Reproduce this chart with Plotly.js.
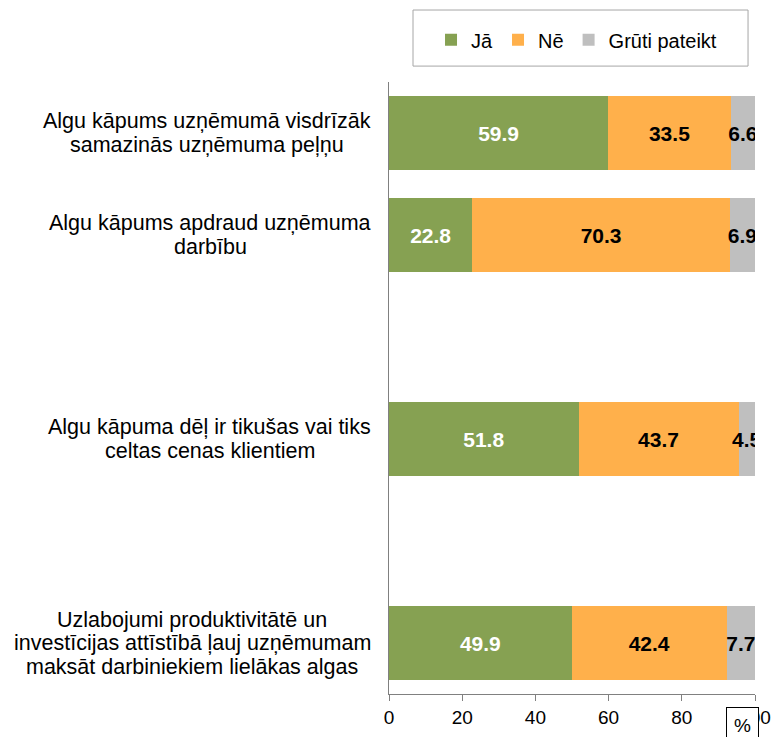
<!DOCTYPE html>
<html>
<head>
<meta charset="utf-8">
<script src="https://cdn.plot.ly/plotly-3.0.1.min.js"></script>
<style>html,body{margin:0;padding:0;background:#fff;}#chart{width:771px;height:737px;}</style>
</head>
<body>
<div id="chart"></div>
<script>
// ---- data ----
var categories = [
  "Algu kāpums uzņēmumā visdrīzāk<br>samazinās uzņēmuma peļņu",
  "Algu kāpums apdraud uzņēmuma<br>darbību",
  " ",
  "Algu kāpuma dēļ ir tikušas vai tiks<br>celtas cenas klientiem",
  "  ",
  "Uzlabojumi produktivitātē un<br>investīcijas attīstībā ļauj uzņēmumam<br>maksāt darbiniekiem lielākas algas"
];
var seriesNames = ["Jā", "Nē", "Grūti pateikt"];
var ja    = [59.9, 22.8, null, 51.8, null, 49.9];
var ne    = [33.5, 70.3, null, 43.7, null, 42.4];
var gruti = [6.6,  6.9,  null, 4.5,  null, 7.7];
var xTicks = [0, 20, 40, 60, 80, 100];
var unitLabel = "%";

// ---- styles ----
var colors = ["#86A152", "#FFB04B", "#BFBFBF"];
var textColors = ["#FFFFFF", "#000000", "#000000"];
var FONT = "Liberation Sans, Arial, sans-serif";
var LABEL_SIZE = 21.5, LINE_H = 23.5;
var LABEL_RIGHT_PX = 371;       // right edge of the label column (page px)
var PLOT_L = 389, PLOT_W = 366; // plot area geometry (matches margins)

var values = [ja, ne, gruti];
var traces = values.map(function (v, i) {
  return {
    type: "bar",
    orientation: "h",
    name: seriesNames[i],
    x: v,
    y: categories,
    marker: {color: colors[i], line: {width: 0}},
    texttemplate: "%{x:.1f}",
    textposition: "inside",
    insidetextanchor: "middle",
    constraintext: "none",
    textangle: 0,
    textfont: {family: FONT, size: 21, color: textColors[i], weight: "bold"},
    hoverinfo: "x+name"
  };
});

// measure text width with a canvas to centre each label block
var cv = document.createElement("canvas").getContext("2d");
cv.font = LABEL_SIZE + "px 'Liberation Sans', Arial, sans-serif";

var annotations = [];
categories.forEach(function (c) {
  if (c.trim() === "") return;
  var lines = c.split("<br>");
  var widest = Math.max.apply(null, lines.map(function (ln) { return cv.measureText(ln).width; }));
  var centerPx = LABEL_RIGHT_PX - widest / 2;
  lines.forEach(function (ln, k) {
    annotations.push({
      xref: "paper", yref: "y", x: (centerPx - PLOT_L) / PLOT_W, y: c,
      xanchor: "center", yanchor: "middle", align: "center",
      text: ln, showarrow: false,
      yshift: ((lines.length - 1) / 2 - k) * LINE_H,
      font: {family: FONT, size: LABEL_SIZE, color: "#000"}
    });
  });
});

annotations.push({
  xref: "paper", yref: "paper", x: 0.967, y: -0.022,
  xanchor: "center", yanchor: "top",
  text: unitLabel, showarrow: false,
  font: {family: FONT, size: 19, color: "#000"},
  bgcolor: "#FFFFFF", bordercolor: "#000000", borderwidth: 1, borderpad: 7
});

var layout = {
  width: 771, height: 737,
  margin: {l: 389, r: 16, t: 82, b: 43},
  paper_bgcolor: "#fff", plot_bgcolor: "#fff",
  barmode: "stack",
  bargap: 0.28,
  showlegend: true,
  legend: {
    orientation: "h", x: 0.1148, y: 1.101, xanchor: "left", yanchor: "top",
    font: {family: FONT, size: 20, color: "#000"},
    itemgap: 11,
    traceorder: "normal", bgcolor: "rgba(0,0,0,0)", borderwidth: 0
  },
  shapes: [{
    type: "rect", xref: "paper", yref: "paper",
    x0: 0.0656, x1: 0.981, y0: 1.026, y1: 1.1176,
    line: {color: "#A6A6A6", width: 1}, fillcolor: "rgba(0,0,0,0)"
  }],
  xaxis: {
    range: [0, 100], tickvals: xTicks, ticktext: xTicks.map(String),
    ticks: "outside", ticklen: 6, tickcolor: "#808080",
    showline: true, linecolor: "#808080", linewidth: 1,
    showgrid: false, zeroline: false,
    tickfont: {family: FONT, size: 19, color: "#000"}
  },
  yaxis: {
    type: "category", categoryorder: "array", categoryarray: categories,
    autorange: "reversed", showticklabels: false, ticks: "",
    showline: true, linecolor: "#808080", linewidth: 1,
    showgrid: false, zeroline: false
  },
  annotations: annotations,
  font: {family: FONT}
};

Plotly.newPlot("chart", traces, layout, {displayModeBar: false, staticPlot: true});
</script>
</body>
</html>
